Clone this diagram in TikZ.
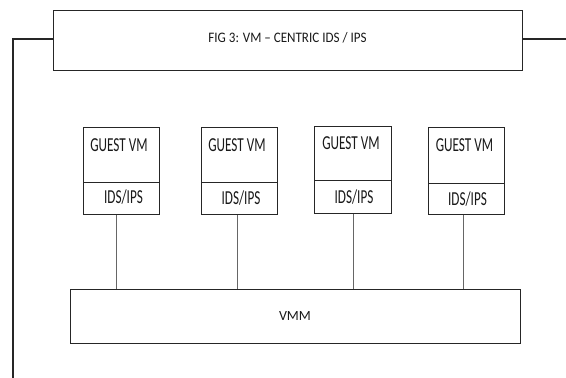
\documentclass[tikz,border=0pt]{standalone}
\usepackage{fontspec}
\setmainfont{Carlito}
\newfontfamily\narrowfont{Carlito}[FakeStretch=0.9]
\newcommand{\tallbox}[1]{\scalebox{1}[1.5]{#1}}
\begin{document}
\begin{tikzpicture}[x=1pt,y=-1pt,
  box/.style={draw=black!85, line width=1.1pt, rectangle, inner sep=0pt, anchor=north west},
  frameline/.style={draw=black!85, line width=1.1pt},
  wire/.style={draw=black!60, line width=0.7pt},
  lbl/.style={font=\narrowfont\fontsize{14.5}{16}\selectfont, inner sep=0pt, text=black!90, anchor=base},
  tall/.style={font=\fontsize{13.2}{14}\selectfont, inner sep=0pt, text=black!90, anchor=base}]
\useasboundingbox (0,0) rectangle (566,378);
% title
\node[box, minimum width=469pt, minimum height=60pt] (title) at (53,10) {};
\node[lbl] (titletext) at (287.5,42) {FIG 3: VM – CENTRIC IDS / IPS};
\coordinate (tl) at (13,39);
\coordinate (tb) at (13,378);
\coordinate (tr) at (566,39);
\draw[frameline] (title.west |- tl) -- (tl) -- (tb);
\draw[frameline] (title.east |- tr) -- (tr);
% guest VMs
\node[box, minimum width=76pt, minimum height=55pt] (g1) at (83,127) {};
\node[box, minimum width=76pt, minimum height=32pt] (i1) at (83,182) {};
\node[box, minimum width=76pt, minimum height=55pt] (g2) at (201,127) {};
\node[box, minimum width=76pt, minimum height=32pt] (i2) at (201,182) {};
\node[box, minimum width=77pt, minimum height=54pt] (g3) at (314,126) {};
\node[box, minimum width=77pt, minimum height=33pt] (i3) at (314,180) {};
\node[box, minimum width=76pt, minimum height=56pt] (g4) at (428,127) {};
\node[box, minimum width=76pt, minimum height=31pt] (i4) at (428,183) {};
\node[tall] (g1t) at (119,151) {\tallbox{GUEST VM}};
\node[tall] (i1t) at (123.5,203) {\tallbox{IDS/IPS}};
\node[tall] (g2t) at (237,151) {\tallbox{GUEST VM}};
\node[tall] (i2t) at (241,204) {\tallbox{IDS/IPS}};
\node[tall] (g3t) at (351,149) {\tallbox{GUEST VM}};
\node[tall] (i3t) at (354,203) {\tallbox{IDS/IPS}};
\node[tall] (g4t) at (464.5,151) {\tallbox{GUEST VM}};
\node[tall] (i4t) at (467.5,205) {\tallbox{IDS/IPS}};
% VMM
\node[box, minimum width=450pt, minimum height=54pt] (vmm) at (70,289) {};
\node[tall, font=\fontsize{14}{16}\selectfont] (vmmt) at (295,320) {VMM};
% wires
\draw[wire] ([xshift=-5pt]i1.south) -- ([xshift=-5pt]i1.south |- vmm.north);
\draw[wire] ([xshift=-2pt]i2.south) -- ([xshift=-2pt]i2.south |- vmm.north);
\draw[wire] ([xshift=0.5pt]i3.south) -- ([xshift=0.5pt]i3.south |- vmm.north);
\draw[wire] ([xshift=-3pt]i4.south) -- ([xshift=-3pt]i4.south |- vmm.north);
\end{tikzpicture}
\end{document}
